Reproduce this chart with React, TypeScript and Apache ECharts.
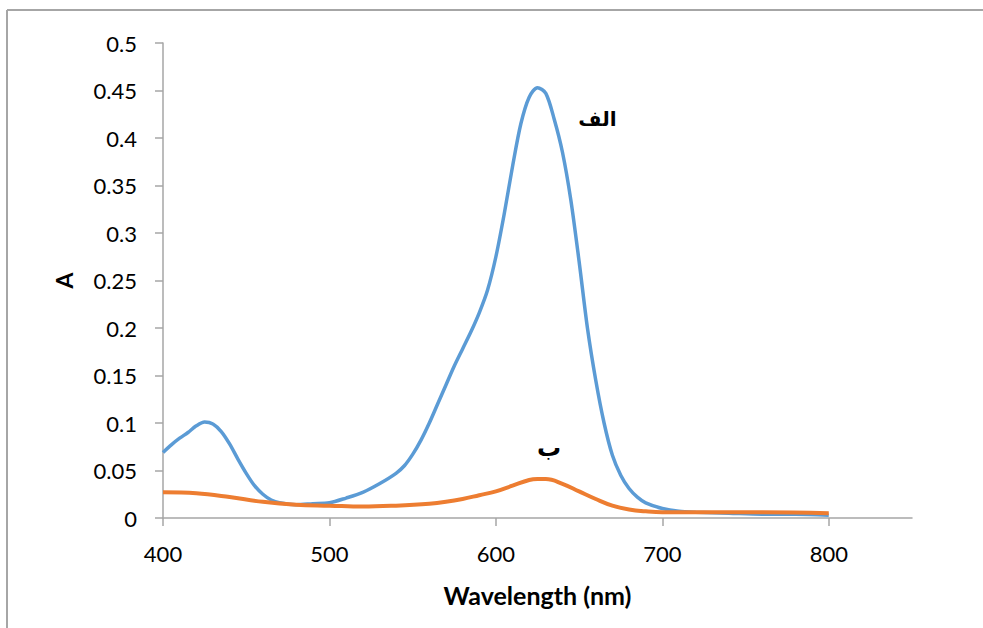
import React, { useEffect, useRef } from "react";
import * as echarts from "echarts";

const blueWavelengths = [400,405,410,415,420,425,430,435,440,445,450,455,460,465,470,480,490,500,510,520,530,540,545,550,555,560,565,570,575,580,585,590,595,600,605,610,615,620,625,630,635,640,645,650,655,660,665,670,675,680,685,690,700,710,720,740,760,780,800];
const blueValues = [0.069,0.077,0.084,0.090,0.097,0.101,0.099,0.091,0.078,0.062,0.047,0.034,0.025,0.019,0.016,0.014,0.015,0.016,0.021,0.027,0.036,0.047,0.055,0.067,0.082,0.100,0.120,0.140,0.160,0.178,0.196,0.216,0.240,0.275,0.320,0.370,0.415,0.443,0.453,0.447,0.420,0.385,0.335,0.270,0.200,0.145,0.100,0.066,0.045,0.031,0.022,0.016,0.010,0.007,0.006,0.005,0.004,0.004,0.003];

const orangeWavelengths = [400,420,440,460,480,500,520,540,560,570,580,590,600,610,620,625,630,640,650,660,670,680,690,700,750,800];
const orangeValues = [0.027,0.026,0.022,0.017,0.014,0.013,0.012,0.013,0.015,0.017,0.020,0.024,0.028,0.034,0.040,0.041,0.041,0.036,0.028,0.020,0.013,0.009,0.007,0.006,0.006,0.005];

const xTicks = [400, 500, 600, 700, 800];
const labelAlef = { text: "الف", coord: [661, 0.42] };
const labelBe = { text: "ب", coord: [632, 0.074] };

const zip = (xs: number[], ys: number[]) => xs.map((x, i) => [x, ys[i]]);

export default function App() {
  const ref = useRef<HTMLDivElement>(null);
  useEffect(() => {
    if (!ref.current) return;
    const chart = echarts.init(ref.current, null, { renderer: "svg" });
    const axisColor = "#A6A6A6";
    const font = "Lato, 'Open Sans', sans-serif";
    const arabicLabel = (l: { text: string; coord: number[] }, size: number) => ({
      coord: l.coord,
      symbol: "rect",
      symbolSize: 1,
      itemStyle: { color: "rgba(0,0,0,0)" },
      label: {
        show: true,
        formatter: l.text,
        fontFamily: "'DejaVu Sans', sans-serif",
        fontWeight: "bold",
        fontSize: size,
        color: "#000",
        position: "inside",
      },
    });
    chart.setOption({
      animation: false,
      backgroundColor: "#fff",
      grid: { left: 163, right: 71, top: 43, bottom: 110, containLabel: false },
      graphic: [
        { type: "line", shape: { x1: 7, y1: 10, x2: 990, y2: 10 }, style: { stroke: "#A6A6A6", lineWidth: 2 } },
        { type: "line", shape: { x1: 7, y1: 10, x2: 7, y2: 640 }, style: { stroke: "#A6A6A6", lineWidth: 2 } },
      ],
      xAxis: {
        type: "value",
        min: 400,
        max: 850,
        interval: 100,
        name: "Wavelength (nm)",
        nameLocation: "middle",
        nameGap: 64,
        nameTextStyle: { fontFamily: font, fontWeight: "bold", fontSize: 25, color: "#000" },
        axisLine: { show: true, lineStyle: { color: axisColor, width: 1.5 } },
        axisTick: { show: true, length: 8, customValues: xTicks, lineStyle: { color: axisColor, width: 1.5 } },
        axisLabel: { customValues: xTicks, fontFamily: font, fontSize: 22, color: "#000", margin: 24 },
        splitLine: { show: false },
      },
      yAxis: {
        type: "value",
        min: 0,
        max: 0.5,
        interval: 0.05,
        name: "A",
        nameLocation: "middle",
        nameGap: 88,
        nameRotate: 90,
        nameTextStyle: { fontFamily: font, fontWeight: "bold", fontSize: 23, color: "#000" },
        axisLine: { show: true, lineStyle: { color: axisColor, width: 1.5 } },
        axisTick: { show: true, length: 8, lineStyle: { color: axisColor, width: 1.5 } },
        axisLabel: { fontFamily: font, fontSize: 22, color: "#000", margin: 26 },
        splitLine: { show: false },
      },
      series: [
        {
          type: "line",
          data: zip(blueWavelengths, blueValues),
          smooth: 0.3,
          showSymbol: false,
          lineStyle: { color: "#5B9BD5", width: 3.5 },
          itemStyle: { color: "#5B9BD5" },
          markPoint: { data: [arabicLabel(labelAlef, 20)] },
        },
        {
          type: "line",
          data: zip(orangeWavelengths, orangeValues),
          smooth: 0.4,
          showSymbol: false,
          lineStyle: { color: "#ED7D31", width: 4 },
          itemStyle: { color: "#ED7D31" },
          markPoint: { data: [arabicLabel(labelBe, 24)] },
        },
      ],
    });
    return () => chart.dispose();
  }, []);
  return <div ref={ref} style={{ position: "absolute", left: 0, top: 0, width: 983, height: 628 }} />;
}
